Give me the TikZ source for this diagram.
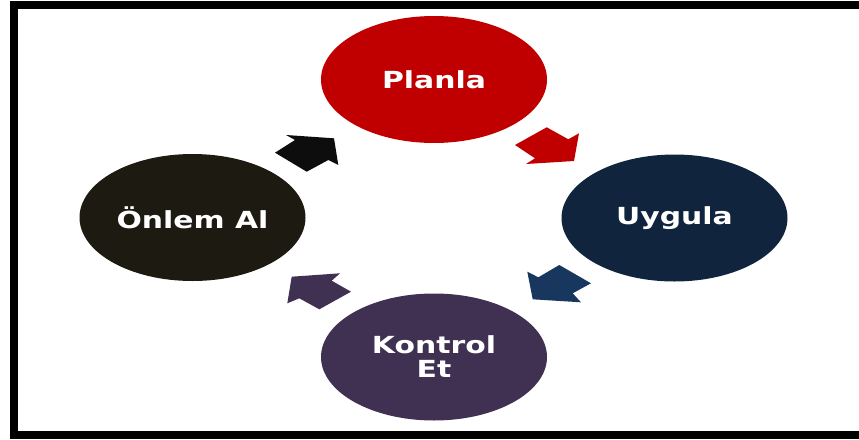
\documentclass[tikz,border=0pt]{standalone}
\usepackage{fontspec}
\usetikzlibrary{shapes.geometric}
\newfontfamily\lblfont{DejaVu Sans}
\definecolor{planred}{HTML}{C00000}
\definecolor{donavy}{HTML}{10243E}
\definecolor{doarrow}{HTML}{17375E}
\definecolor{checkpurple}{HTML}{403152}
\definecolor{actdark}{HTML}{1D1B11}
\definecolor{actarrow}{HTML}{0D0D0D}
\newcommand{\wide}[1]{\scalebox{1.27}[1]{#1}}
\tikzset{
  phase/.style={ellipse, minimum width=226pt, minimum height=127pt, inner sep=0pt,
    text=white, align=center,
    font=\lblfont\bfseries\fontsize{23.5}{24}\selectfont},
  blockarrow/.style={draw=none}
}
\begin{document}
\begin{tikzpicture}[x=1pt, y=-1pt]
  \path[use as bounding box] (0,0) rectangle (859,439);
  \clip (0,0) rectangle (859,439);
  \fill[white] (0,0) rectangle (859,439);
  % frame, open on the right
  \draw[line width=8pt] (14,5) rectangle (890,435);

  % the four phases of the cycle
  \node[phase, fill=planred]     (plan)  at (434,79.5) {\wide{Planla}};
  \node[phase, fill=donavy]      (do)    at (674.5,218) {\wide{Uygula}};
  \node[phase, fill=checkpurple] (check) at (434,357) {\wide{Kontrol}\\\wide{Et}};
  \node[phase, fill=actdark]     (act)   at (192.5,217.5) {\wide{Önlem Al}};

  % block arrows between the phases
  \fill[planred, blockarrow] (515,145) -- (546.7,127.3) -- (568.3,139.3) -- (579,133.3)
    -- (574,161) -- (526,164) -- (535,158.3) -- cycle;
  \fill[doarrow, blockarrow] (527.3,271.7) -- (538.3,277.3) -- (559.3,265) -- (591,283.3)
    -- (572.7,293.3) -- (581,302.3) -- (532.7,299.3) -- cycle;
  \fill[checkpurple, blockarrow] (291.7,276.7) -- (340,273.3) -- (331.7,280.7) -- (351,291.7)
    -- (319.3,309.3) -- (299.3,298.3) -- (287.3,303.3) -- cycle;
  \fill[actarrow, blockarrow] (275,152.7) -- (306.7,171.7) -- (328.3,160) -- (338.3,165)
    -- (334,138.3) -- (286,135) -- (295,140) -- cycle;
\end{tikzpicture}
\end{document}
